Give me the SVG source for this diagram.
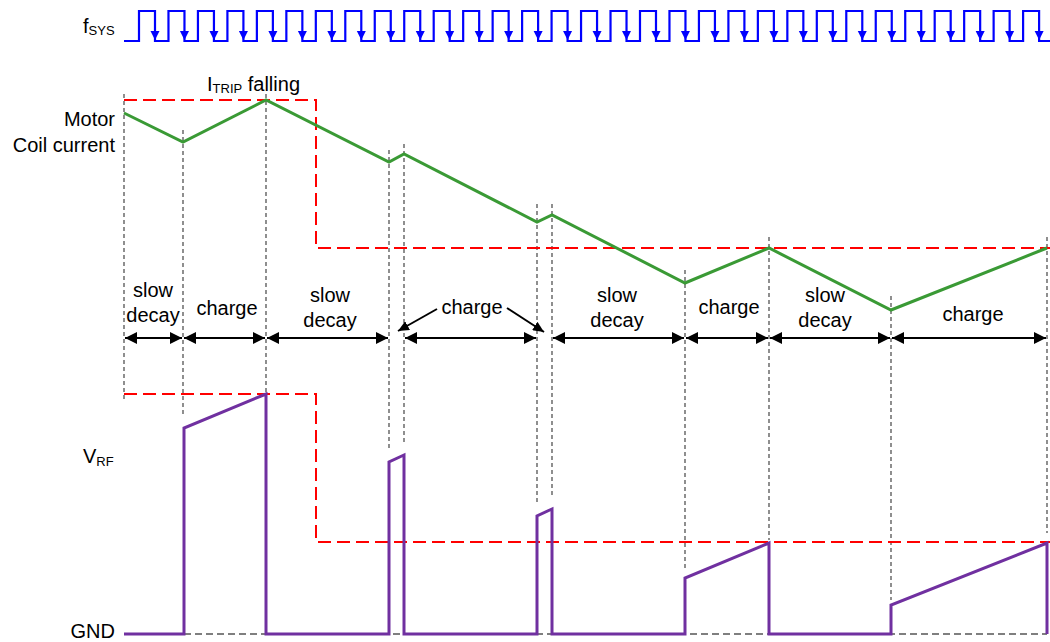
<svg xmlns="http://www.w3.org/2000/svg" xmlns:xlink="http://www.w3.org/1999/xlink" width="1050" height="642" viewBox="0 0 1050 642">
<style>
text{font-family:"Liberation Sans",Arial,sans-serif;font-size:20px;fill:#000}
.sub{font-size:13px}
.clk{fill:none;stroke:#0000ff;stroke-width:2.2}
.clkah{fill:#0000ff}
.grn{fill:none;stroke:#3a9a35;stroke-width:3;stroke-linejoin:miter}
.red{fill:none;stroke:#ff0000;stroke-width:2;stroke-dasharray:13,6}
.vd{fill:none;stroke:#333;stroke-width:1.1;stroke-dasharray:4,3}
.gnd{fill:none;stroke:#555;stroke-width:1.5;stroke-dasharray:7,4}
.pur{fill:none;stroke:#7030a0;stroke-width:3}
.dbl{fill:none;stroke:#000;stroke-width:2;marker-start:url(#ah);marker-end:url(#ah)}
.ptr{fill:none;stroke:#000;stroke-width:2;marker-end:url(#ahs)}
.c{text-anchor:middle}
.r{text-anchor:end}
</style>
<defs>
<marker id="ah" markerUnits="userSpaceOnUse" markerWidth="13" markerHeight="12" refX="12" refY="6" orient="auto-start-reverse" viewBox="0 0 13 12">
<path d="M0,0 L12,6 L0,12 Z" fill="#000"/>
</marker>
<marker id="ahs" markerUnits="userSpaceOnUse" markerWidth="12" markerHeight="10" refX="11" refY="5" orient="auto" viewBox="0 0 12 10">
<path d="M0,0 L11,5 L0,10 Z" fill="#000"/>
</marker>
<path id="ca" d="M-4.5,-9 L4.5,-9 L0,0 Z"/>
</defs>

<g id="fsys">
<text x="83" y="33">f<tspan class="sub" dy="2">SYS</tspan></text>
<path class="clk" d="M124,41 h15 v-30h16v30h13.47 v-30h16v30h13.47 v-30h16v30h13.47 v-30h16v30h13.47 v-30h16v30h13.47 v-30h16v30h13.47 v-30h16v30h13.47 v-30h16v30h13.47 v-30h16v30h13.47 v-30h16v30h13.47 v-30h16v30h13.47 v-30h16v30h13.47 v-30h16v30h13.47 v-30h16v30h13.47 v-30h16v30h13.47 v-30h16v30h13.47 v-30h16v30h13.47 v-30h16v30h13.47 v-30h16v30h13.47 v-30h16v30h13.47 v-30h16v30h13.47 v-30h16v30h13.47 v-30h16v30h13.47 v-30h16v30h13.47 v-30h16v30h13.47 v-30h16v30h13.47 v-30h16v30h13.47 v-30h16v30h13.47 v-30h16v30h13.47 v-30h16v30h13.47 v-30h16v30 H1050"/>
<g class="clkah">
<use xlink:href="#ca" x="155" y="40"/><use xlink:href="#ca" x="184.47" y="40"/><use xlink:href="#ca" x="213.94" y="40"/><use xlink:href="#ca" x="243.41" y="40"/><use xlink:href="#ca" x="272.88" y="40"/><use xlink:href="#ca" x="302.35" y="40"/><use xlink:href="#ca" x="331.82" y="40"/><use xlink:href="#ca" x="361.29" y="40"/><use xlink:href="#ca" x="390.76" y="40"/><use xlink:href="#ca" x="420.23" y="40"/><use xlink:href="#ca" x="449.7" y="40"/><use xlink:href="#ca" x="479.17" y="40"/><use xlink:href="#ca" x="508.64" y="40"/><use xlink:href="#ca" x="538.11" y="40"/><use xlink:href="#ca" x="567.58" y="40"/><use xlink:href="#ca" x="597.05" y="40"/><use xlink:href="#ca" x="626.52" y="40"/><use xlink:href="#ca" x="655.99" y="40"/><use xlink:href="#ca" x="685.46" y="40"/><use xlink:href="#ca" x="714.93" y="40"/><use xlink:href="#ca" x="744.4" y="40"/><use xlink:href="#ca" x="773.87" y="40"/><use xlink:href="#ca" x="803.34" y="40"/><use xlink:href="#ca" x="832.81" y="40"/><use xlink:href="#ca" x="862.28" y="40"/><use xlink:href="#ca" x="891.75" y="40"/><use xlink:href="#ca" x="921.22" y="40"/><use xlink:href="#ca" x="950.69" y="40"/><use xlink:href="#ca" x="980.16" y="40"/><use xlink:href="#ca" x="1009.63" y="40"/><use xlink:href="#ca" x="1039.1" y="40"/>
</g>
</g>

<g id="labels">
<text x="207" y="91">I<tspan class="sub" dy="2">TRIP</tspan><tspan dy="-2"> falling</tspan></text>
<text class="r" x="115" y="126">Motor</text>
<text class="r" x="115" y="152">Coil current</text>
<text x="83" y="463">V<tspan class="sub" dy="3">RF</tspan></text>
<text class="r" x="115" y="638">GND</text>
</g>

<g id="guides">
<path class="vd" d="M124,94 V400 M183,130 V416 M266,94 V394 M389,150 V450 M404,144 V445 M537,204 V503 M552,204 V498 M685,270 V568 M769,237 V540 M891,296 V600 M1047,237 V533"/>
<path class="gnd" d="M184,634 H1047"/>
</g>

<g id="itrip">
<path class="red" d="M124,100 H316 V248 H1050"/>
<path class="red" d="M124,394 H316 V542 H1050"/>
</g>

<g id="coil-current">
<path class="grn" d="M124,113 L183,142 L266,100 L389,162 L404,154 L537,222 L552,215 L685,283 L769,248 L891,310 L1047,248"/>
</g>

<g id="vrf">
<path class="pur" d="M124,634 H184 V428 L266,394 V634 H389 V462 L404,455 V634 H537 V516 L552,509 V634 H685 V578 L769,543 V634 H891 V605 L1047,543 V634"/>
</g>

<g id="connectors">
<path class="dbl" d="M125,338 H182"/>
<path class="dbl" d="M184,338 H265"/>
<path class="dbl" d="M267,338 H388"/>
<path class="dbl" d="M405,338 H536"/>
<path class="dbl" d="M553,338 H684"/>
<path class="dbl" d="M686,338 H768"/>
<path class="dbl" d="M770,338 H890"/>
<path class="dbl" d="M892,338 H1046"/>
<path class="ptr" d="M437,309 L398,331"/>
<path class="ptr" d="M507,308 L544,332"/>
</g>

<g id="phase-labels">
<text class="c" x="153" y="297">slow</text>
<text class="c" x="153" y="322">decay</text>
<text class="c" x="227" y="315">charge</text>
<text class="c" x="330" y="302">slow</text>
<text class="c" x="330" y="327">decay</text>
<text class="c" x="472" y="314">charge</text>
<text class="c" x="617" y="302">slow</text>
<text class="c" x="617" y="327">decay</text>
<text class="c" x="729" y="314">charge</text>
<text class="c" x="825" y="302">slow</text>
<text class="c" x="825" y="327">decay</text>
<text class="c" x="973" y="321">charge</text>
</g>
</svg>
